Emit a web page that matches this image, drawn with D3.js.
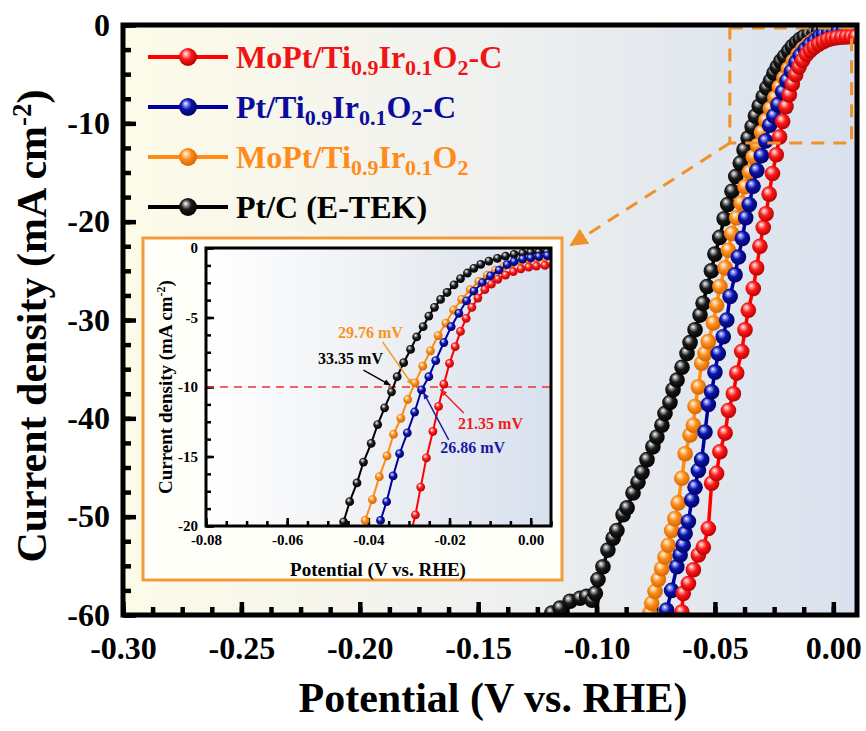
<!DOCTYPE html>
<html>
<head>
<meta charset="utf-8">
<script src="https://cdn.jsdelivr.net/npm/d3@7/dist/d3.min.js"></script>
<style>
body { margin: 0; background: #fff; }
svg text { font-family: "Liberation Serif", "Times New Roman", serif; font-weight: bold; }
</style>
</head>
<body>
<script>
// ---- data (potential in V vs RHE, current density in mA cm-2) ----
var seriesNames = ["MoPt/Ti0.9Ir0.1O2-C", "Pt/Ti0.9Ir0.1O2-C", "MoPt/Ti0.9Ir0.1O2", "Pt/C (E-TEK)"]

var potRed = [-0.0640, -0.0634, -0.0612, -0.0591, -0.0570, -0.0549, -0.0528, -0.0514, -0.0493, -0.0479, -0.0457, -0.0443,
    -0.0422, -0.0408, -0.0387, -0.0373, -0.0359, -0.0338, -0.0324, -0.0310, -0.0296,
    -0.0284, -0.0271, -0.0257, -0.0241, -0.0227, -0.0214, -0.0200, -0.0186, -0.0173, -0.0159, -0.0145, -0.0130,
    -0.0113, -0.0097, -0.0081, -0.0062, -0.0043, -0.0024, -0.0005, 0.0014, 0.0035, 0.0055, 0.0075, 0.0095]
var curRed = [-59.7, -57.8, -56.8, -55.4, -53.9, -53.1, -51.2, -46.6, -45.6, -43.4, -41.5, -39.2,
    -37.5, -35.4, -33.2, -31.0, -29.0, -26.8, -24.7, -22.5, -20.6,
    -19.2, -17.2, -15.1, -13.2, -11.4, -9.8, -8.3, -7.1, -6.0, -5.06, -4.27, -3.6,
    -3.0, -2.6, -2.25, -1.95, -1.7, -1.5, -1.38, -1.3, -1.25, -1.22, -1.2, -1.18]

var potBlue = [-0.0704, -0.0683, -0.0661, -0.0647, -0.0634, -0.0626, -0.0612, -0.0598, -0.0584, -0.0570, -0.0556, -0.0542,
    -0.0528, -0.0514, -0.0500, -0.0486, -0.0465, -0.0450, -0.0436, -0.0415, -0.0401, -0.0384,
    -0.0370, -0.0355, -0.0339, -0.0323, -0.0304, -0.0286, -0.0269, -0.0251, -0.0234, -0.0214, -0.0196, -0.0177,
    -0.0158, -0.0140, -0.0119, -0.0099, -0.0078, -0.0058, -0.0041, -0.0020, 0.0000, 0.0020, 0.0041, 0.0060, 0.0080, 0.0100]
var curBlue = [-59.5, -57.5, -55.1, -53.9, -52.9, -51.7, -50.5, -48.3, -47.0, -45.3, -44.2, -41.4,
    -38.6, -37.3, -35.3, -33.4, -31.7, -30.0, -27.6, -25.4, -23.6, -21.7,
    -19.6, -18.25, -16.4, -14.8, -13.3, -11.8, -10.2, -9.26, -8.1, -6.8, -5.66, -4.7,
    -3.8, -3.1, -2.5, -2.0, -1.6, -1.2, -0.98, -0.8, -0.72, -0.62, -0.55, -0.5, -0.46, -0.43]

var potOrange = [-0.0775, -0.0767, -0.0753, -0.0739, -0.0725, -0.0711, -0.0697, -0.0683, -0.0669, -0.0655, -0.0640, -0.0626,
    -0.0605, -0.0591, -0.0584, -0.0570, -0.0556, -0.0542, -0.0528, -0.0507, -0.0493, -0.0479, -0.0457, -0.0443, -0.0429,
    -0.0408, -0.0390, -0.0373, -0.0354, -0.0338, -0.0320, -0.0303, -0.0285, -0.0266, -0.0247, -0.0228, -0.0209,
    -0.0190, -0.0170, -0.0149, -0.0128, -0.0107, -0.0087, -0.0066, -0.0046, -0.0025, -0.0005, 0.0015, 0.0035, 0.0055, 0.0075, 0.0095]
var curOrange = [-59.8, -58.8, -57.6, -56.4, -55.3, -54.1, -52.9, -51.4, -50.2, -48.6, -46.1, -43.6,
    -41.7, -40.7, -38.8, -36.8, -34.4, -33.4, -32.2, -30.3, -28.5, -26.6, -24.7, -22.9, -21.2,
    -19.6, -18.1, -16.45, -14.96, -13.4, -12.25, -10.9, -9.7, -8.5, -7.4, -6.3, -5.4,
    -4.46, -3.7, -3.0, -2.4, -1.95, -1.6, -1.3, -1.1, -0.95, -0.85, -0.78, -0.72, -0.68, -0.65, -0.63]

var potBlack = [-0.1189, -0.1154, -0.1112, -0.1070, -0.1042, -0.1019, -0.1005, -0.0994, -0.0973, -0.0952, -0.0930, -0.0914,
    -0.0888, -0.0871, -0.0846, -0.0825, -0.0808, -0.0787, -0.0762, -0.0745, -0.0724, -0.0711, -0.0690, -0.0677,
    -0.0660, -0.0639, -0.0618, -0.0605, -0.0584, -0.0563, -0.0550, -0.0533, -0.0515, -0.0500, -0.0480,
    -0.0461, -0.0446, -0.0428, -0.0412, -0.0393, -0.0377, -0.0360, -0.0343, -0.0329, -0.0313, -0.0296, -0.0281,
    -0.0265, -0.0251, -0.0237, -0.0222, -0.0206, -0.0189, -0.0173, -0.0156, -0.0140, -0.0123, -0.0103, -0.0082,
    -0.0062, -0.0041, -0.0020, 0.0000, 0.0020, 0.0040, 0.0060, 0.0080, 0.0100]
var curBlack = [-59.8, -59.3, -58.6, -58.3, -58.1, -58.5, -57.8, -56.4, -55.1, -53.4, -52.2, -51.4,
    -49.8, -49.1, -47.6, -46.5, -45.5, -44.2, -42.9, -41.9, -40.7, -39.5, -38.4, -37.1,
    -36.1, -34.8, -33.4, -32.3, -31.0, -29.5, -28.3, -26.6, -25.0, -23.3, -21.6,
    -19.7, -18.25, -16.9, -15.4, -14.05, -12.7, -11.5, -10.35, -9.26, -8.25, -7.3, -6.4,
    -5.66, -4.9, -4.27, -3.7, -3.2, -2.66, -2.2, -1.8, -1.46, -1.18, -0.94, -0.74,
    -0.58, -0.46, -0.38, -0.31, -0.29, -0.27, -0.25, -0.24, -0.23]

// overpotentials at -10 mA cm-2 (inset labels)
var etaLabels = ["33.35 mV", "29.76 mV", "21.35 mV", "26.86 mV"]
var etaTip = [[-0.0346, -9.86], [-0.0291, -9.86], [-0.0222, -10.2], [-0.0264, -10.4]]
var etaFrom = [[-0.0412, -8.78], [-0.0365, -6.76], [-0.0165, -11.87], [-0.0202, -13.8]]
var etaText = [[-0.0444, -8.35], [-0.0395, -6.5], [-0.0099, -13.0], [-0.0143, -14.75]]

var xTicks = [-0.30, -0.25, -0.20, -0.15, -0.10, -0.05, 0.00]
var xTickLabels = ["-0.30", "-0.25", "-0.20", "-0.15", "-0.10", "-0.05", "0.00"]
var yTicks = [0, -10, -20, -30, -40, -50, -60]
var yTickLabels = ["0", "-10", "-20", "-30", "-40", "-50", "-60"]
var insetXTicks = [-0.08, -0.06, -0.04, -0.02, 0.00]
var insetXTickLabels = ["-0.08", "-0.06", "-0.04", "-0.02", "0.00"]
var insetYTicks = [0, -5, -10, -15, -20]
var insetYTickLabels = ["0", "-5", "-10", "-15", "-20"]
var zoomBox = [[-0.0437, 0.0077], [-12.0, -0.3]]

// ---- styles ----
var lineColors = ["#ff0000", "#0000a0", "#ff8c14", "#000000"]
var ballStops = [
    ["#ffffff", "#ffb3b3", "#ff1a1a", "#b00000"],
    ["#ffffff", "#a0a8ff", "#0a14a8", "#000060"],
    ["#ffffff", "#ffdcae", "#ff8c1a", "#d06400"],
    ["#ffffff", "#b8b8b8", "#1a1a1a", "#000000"]
]
var textColors = ["#f01414", "#0c0c9c", "#ff8c1a", "#000000"]
var etaColors = ["#000000", "#f7941d", "#ee1c24", "#1a1aa0"]

var series = [
    { pot: potRed, cur: curRed },
    { pot: potBlue, cur: curBlue },
    { pot: potOrange, cur: curOrange },
    { pot: potBlack, cur: curBlack }
]
series.forEach(function (s, i) {
    s.i = i
    s.pts = s.pot.map(function (v, k) { return [v, s.cur[k]] })
})
var drawOrder = [3, 2, 1, 0]

var W = 866, H = 731
var svg = d3.select("body").append("svg").attr("width", W).attr("height", H)
var defs = svg.append("defs")

var bg = defs.append("linearGradient").attr("id", "bgMain").attr("x1", 0).attr("x2", 1).attr("y1", 0).attr("y2", 0)
bg.append("stop").attr("offset", "0%").attr("stop-color", "#fdfbe8")
bg.append("stop").attr("offset", "45%").attr("stop-color", "#f1f2ef")
bg.append("stop").attr("offset", "100%").attr("stop-color", "#d9e1ee")

var bgIn = defs.append("linearGradient").attr("id", "bgInset").attr("x1", 0).attr("x2", 1).attr("y1", 0).attr("y2", 0)
bgIn.append("stop").attr("offset", "0%").attr("stop-color", "#ffffff")
bgIn.append("stop").attr("offset", "50%").attr("stop-color", "#eef0f3")
bgIn.append("stop").attr("offset", "100%").attr("stop-color", "#d8e0ee")

ballStops.forEach(function (st, i) {
    var g = defs.append("radialGradient").attr("id", "ball" + i)
        .attr("cx", 0.45).attr("cy", 0.42).attr("r", 0.6).attr("fx", 0.36).attr("fy", 0.3)
    g.append("stop").attr("offset", "0%").attr("stop-color", st[0])
    g.append("stop").attr("offset", "14%").attr("stop-color", st[1])
    g.append("stop").attr("offset", "48%").attr("stop-color", st[2])
    g.append("stop").attr("offset", "100%").attr("stop-color", st[3])
})

defs.append("marker").attr("id", "arrOrange").attr("viewBox", "0 0 10 10").attr("refX", 9).attr("refY", 5)
    .attr("markerWidth", 6).attr("markerHeight", 6).attr("orient", "auto").attr("markerUnits", "strokeWidth")
    .append("path").attr("d", "M0,0 L10,5 L0,10 Z").attr("fill", "#f0922c")
etaColors.forEach(function (c, i) {
    defs.append("marker").attr("id", "arrEta" + i).attr("viewBox", "0 0 10 10").attr("refX", 9).attr("refY", 5)
        .attr("markerWidth", 6).attr("markerHeight", 5).attr("orient", "auto").attr("markerUnits", "strokeWidth")
        .append("path").attr("d", "M0,1 L10,5 L0,9 Z").attr("fill", c)
})

// ---- main plot ----
var m = { left: 123, right: 857, top: 25, bottom: 615 }
var x = d3.scaleLinear().domain([-0.30, 0.01]).range([m.left, m.right])
var y = d3.scaleLinear().domain([-60, 0]).range([m.bottom, m.top])

defs.append("clipPath").attr("id", "clipMain").append("rect")
    .attr("x", m.left).attr("y", m.top).attr("width", m.right - m.left).attr("height", m.bottom - m.top)

svg.append("rect").attr("x", m.left).attr("y", m.top).attr("width", m.right - m.left).attr("height", m.bottom - m.top)
    .attr("fill", "url(#bgMain)")

function styleAxis(g, size) {
    g.select(".domain").remove()
    g.selectAll("text").attr("fill", "#000").style("font-size", size + "px")
        .style("font-family", "'Liberation Serif','Times New Roman',serif").style("font-weight", "bold")
    return g
}

var xMinor = d3.range(0, 25).map(function (k) { return -0.30 + k * 0.0125 })
var yMinor = d3.range(0, 25).map(function (k) { return -k * 2.5 })

svg.append("g").attr("transform", "translate(0," + m.bottom + ")")
    .call(d3.axisBottom(x).tickValues(xMinor).tickSize(-8).tickFormat(""))
    .call(styleAxis, 32).selectAll("line").attr("stroke", "#000").attr("stroke-width", 4.5)
var xa = svg.append("g").attr("transform", "translate(0," + m.bottom + ")")
    .call(d3.axisBottom(x).tickValues(xTicks).tickSize(-13).tickPadding(21)
        .tickFormat(function (d, i) { return xTickLabels[i] }))
    .call(styleAxis, 32)
xa.selectAll("line").attr("stroke", "#000").attr("stroke-width", 4.5)

svg.append("g").attr("transform", "translate(" + m.left + ",0)")
    .call(d3.axisLeft(y).tickValues(yMinor).tickSize(-8).tickFormat(""))
    .call(styleAxis, 32).selectAll("line").attr("stroke", "#000").attr("stroke-width", 4.5)
var ya = svg.append("g").attr("transform", "translate(" + m.left + ",0)")
    .call(d3.axisLeft(y).tickValues(yTicks).tickSize(-13).tickPadding(13)
        .tickFormat(function (d, i) { return yTickLabels[i] }))
    .call(styleAxis, 32)
ya.selectAll("line").attr("stroke", "#000").attr("stroke-width", 4.5)

var line = d3.line().x(function (d) { return x(d[0]) }).y(function (d) { return y(d[1]) })
var plotMain = svg.append("g").attr("clip-path", "url(#clipMain)")
drawOrder.forEach(function (k) {
    var s = series[k]
    plotMain.append("path").attr("d", line(s.pts)).attr("fill", "none")
        .attr("stroke", lineColors[k]).attr("stroke-width", 3.5)
    plotMain.append("g").selectAll("circle").data(s.pts).enter().append("circle")
        .attr("cx", function (d) { return x(d[0]) }).attr("cy", function (d) { return y(d[1]) })
        .attr("r", 7.8).attr("fill", "url(#ball" + k + ")")
})

// zoom box and leader
svg.append("rect").attr("x", x(zoomBox[0][0])).attr("y", y(zoomBox[1][1]))
    .attr("width", x(zoomBox[0][1]) - x(zoomBox[0][0])).attr("height", y(zoomBox[1][0]) - y(zoomBox[1][1]))
    .attr("fill", "none").attr("stroke", "#f0922c").attr("stroke-width", 3).attr("stroke-dasharray", "13,9")

svg.append("rect").attr("x", m.left).attr("y", m.top).attr("width", m.right - m.left).attr("height", m.bottom - m.top)
    .attr("fill", "none").attr("stroke", "#000").attr("stroke-width", 5)

// legend
var legend = svg.append("g")
seriesNames.forEach(function (n, i) {
    var ly = 57 + i * 50
    legend.append("line").attr("x1", 148).attr("x2", 228).attr("y1", ly).attr("y2", ly)
        .attr("stroke", lineColors[i]).attr("stroke-width", 4)
    legend.append("circle").attr("cx", 188).attr("cy", ly).attr("r", 9).attr("fill", "url(#ball" + i + ")")
    var t = legend.append("text").attr("x", 236).attr("y", ly + 11).attr("fill", textColors[i]).style("font-size", "32px")
    // split chemical formula into normal and subscript parts
    var parts = n.match(/(\d+\.\d+|\d|[^\d]+)/g)
    var sub = false
    parts.forEach(function (p) {
        var isNum = /^\d/.test(p)
        var ts = t.append("tspan").text(p)
        if (isNum && !sub) { ts.attr("dy", 7).style("font-size", "22px"); sub = true }
        else if (!isNum && sub) { ts.attr("dy", -7); sub = false }
        else if (isNum) { ts.style("font-size", "22px") }
    })
})

// axis titles
svg.append("text").attr("x", 493).attr("y", 712).attr("text-anchor", "middle").style("font-size", "42px")
    .text("Potential (V vs. RHE)")
var yt = svg.append("text").attr("transform", "translate(46,326) rotate(-90)").attr("text-anchor", "middle")
    .style("font-size", "42px")
yt.append("tspan").text("Current density (mA cm")
yt.append("tspan").text("-2").attr("dy", -15).style("font-size", "27px")
yt.append("tspan").text(")").attr("dy", 15)

// ---- inset ----
var box = { x: 143, y: 238, w: 419, h: 342 }
var im = { left: 206, right: 551, top: 248, bottom: 526 }
var ix = d3.scaleLinear().domain([-0.08, 0.005]).range([im.left, im.right])
var iy = d3.scaleLinear().domain([-20, 0]).range([im.bottom, im.top])

svg.append("line").attr("x1", x(zoomBox[0][0])).attr("y1", y(zoomBox[1][0]))
    .attr("x2", box.x + box.w + 9).attr("y2", box.y + 7)
    .attr("stroke", "#f0922c").attr("stroke-width", 3).attr("stroke-dasharray", "13,9")
    .attr("marker-end", "url(#arrOrange)")

var inset = svg.append("g")
inset.append("rect").attr("x", box.x).attr("y", box.y).attr("width", box.w).attr("height", box.h)
    .attr("fill", "#fffffa").attr("stroke", "#f39a3a").attr("stroke-width", 3)
inset.append("rect").attr("x", im.left).attr("y", im.top).attr("width", im.right - im.left).attr("height", im.bottom - im.top)
    .attr("fill", "url(#bgInset)")
defs.append("clipPath").attr("id", "clipInset").append("rect")
    .attr("x", im.left).attr("y", im.top).attr("width", im.right - im.left).attr("height", im.bottom - im.top)

var ixMinor = d3.range(0, 18).map(function (k) { return -0.08 + k * 0.005 })
var iyMinor = d3.range(0, 17).map(function (k) { return -k * 1.25 })
inset.append("g").attr("transform", "translate(0," + im.bottom + ")")
    .call(d3.axisBottom(ix).tickValues(ixMinor).tickSize(-5).tickFormat(""))
    .call(styleAxis, 15).selectAll("line").attr("stroke", "#000").attr("stroke-width", 2.5)
var ixa = inset.append("g").attr("transform", "translate(0," + im.bottom + ")")
    .call(d3.axisBottom(ix).tickValues(insetXTicks).tickSize(-8).tickPadding(8)
        .tickFormat(function (d, i) { return insetXTickLabels[i] }))
    .call(styleAxis, 15)
ixa.selectAll("line").attr("stroke", "#000").attr("stroke-width", 2.5)
inset.append("g").attr("transform", "translate(" + im.left + ",0)")
    .call(d3.axisLeft(iy).tickValues(iyMinor).tickSize(-5).tickFormat(""))
    .call(styleAxis, 15).selectAll("line").attr("stroke", "#000").attr("stroke-width", 2.5)
var iya = inset.append("g").attr("transform", "translate(" + im.left + ",0)")
    .call(d3.axisLeft(iy).tickValues(insetYTicks).tickSize(-8).tickPadding(8)
        .tickFormat(function (d, i) { return insetYTickLabels[i] }))
    .call(styleAxis, 15)
iya.selectAll("line").attr("stroke", "#000").attr("stroke-width", 2.5)

var iline = d3.line().x(function (d) { return ix(d[0]) }).y(function (d) { return iy(d[1]) })
var plotIn = inset.append("g").attr("clip-path", "url(#clipInset)")
plotIn.append("line").attr("x1", im.left).attr("x2", im.right).attr("y1", iy(-10)).attr("y2", iy(-10))
    .attr("stroke", "#f03030").attr("stroke-width", 1.6).attr("stroke-dasharray", "8,6")
drawOrder.forEach(function (k) {
    var s = series[k]
    var pts = s.pts.filter(function (d) { return d[1] >= -21 })
    plotIn.append("path").attr("d", iline(pts)).attr("fill", "none")
        .attr("stroke", lineColors[k]).attr("stroke-width", 2)
    plotIn.append("g").selectAll("circle").data(pts).enter().append("circle")
        .attr("cx", function (d) { return ix(d[0]) }).attr("cy", function (d) { return iy(d[1]) })
        .attr("r", 4.4).attr("fill", "url(#ball" + k + ")")
})

etaLabels.forEach(function (lab, i) {
    inset.append("line").attr("x1", ix(etaFrom[i][0])).attr("y1", iy(etaFrom[i][1]))
        .attr("x2", ix(etaTip[i][0])).attr("y2", iy(etaTip[i][1]))
        .attr("stroke", etaColors[i]).attr("stroke-width", 1.4).attr("marker-end", "url(#arrEta" + i + ")")
    inset.append("text").attr("x", ix(etaText[i][0])).attr("y", iy(etaText[i][1])).attr("text-anchor", "middle")
        .attr("fill", etaColors[i]).style("font-size", "16px").text(lab)
})

inset.append("rect").attr("x", im.left).attr("y", im.top).attr("width", im.right - im.left).attr("height", im.bottom - im.top)
    .attr("fill", "none").attr("stroke", "#000").attr("stroke-width", 3)

inset.append("text").attr("x", 378).attr("y", 576).attr("text-anchor", "middle").style("font-size", "19px")
    .text("Potential (V vs. RHE)")
var iyt = inset.append("text").attr("transform", "translate(172,387) rotate(-90)").attr("text-anchor", "middle")
    .style("font-size", "19px")
iyt.append("tspan").text("Current density (mA cm")
iyt.append("tspan").text("-2").attr("dy", -7).style("font-size", "12px")
iyt.append("tspan").text(")").attr("dy", 7)
</script>
</body>
</html>
